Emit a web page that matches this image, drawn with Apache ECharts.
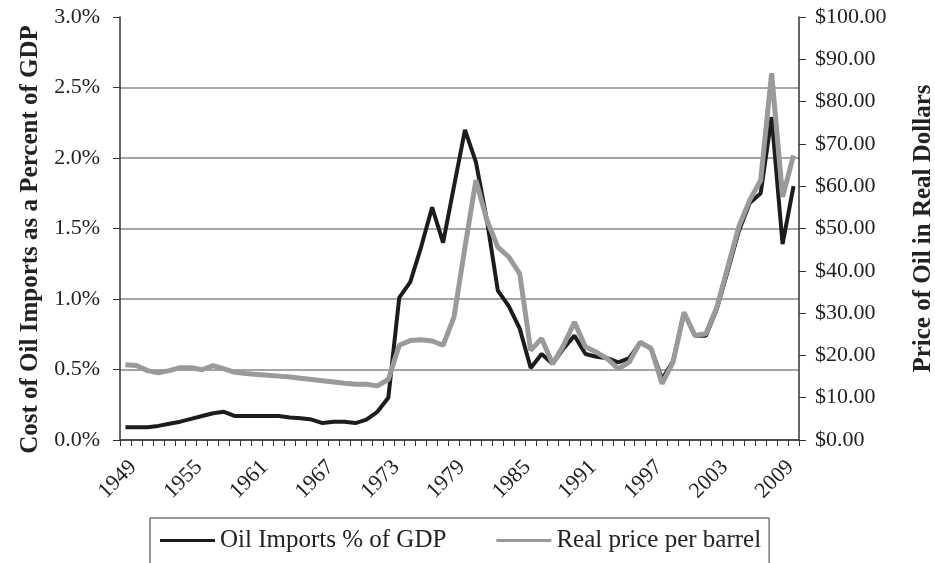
<!DOCTYPE html>
<html>
<head>
<meta charset="utf-8">
<title>Oil imports and price</title>
<script src="https://cdn.jsdelivr.net/npm/echarts@6/dist/echarts.min.js"></script>
<style>
    html, body { margin: 0; padding: 0; background: #fff; }
    #chart { width: 935px; height: 563px; }
</style>
</head>
<body>
<div id="chart"></div>
<script>
// years 1949..2010
var years = [];
for (var y = 1949; y <= 2010; y++) { years.push(String(y)); }

// oil imports as % of GDP
var importsPct = [
    0.09, 0.09, 0.09, 0.10, 0.115, 0.13, 0.15, 0.17, 0.19, 0.20,
    0.17, 0.17, 0.17, 0.17, 0.17, 0.16, 0.155, 0.145, 0.12, 0.13,
    0.13, 0.12, 0.145, 0.20, 0.30, 1.01, 1.12, 1.37, 1.65, 1.40,
    1.80, 2.20, 1.97, 1.56, 1.06, 0.95, 0.79, 0.51, 0.61, 0.54,
    0.65, 0.74, 0.61, 0.59, 0.58, 0.55, 0.58, 0.69, 0.65, 0.43,
    0.56, 0.90, 0.74, 0.74, 0.93, 1.20, 1.48, 1.68, 1.75, 2.29,
    1.39, 1.80
];

// real price per barrel, dollars
var pricePerBarrel = [
    17.8, 17.6, 16.4, 15.9, 16.4, 17.1, 17.1, 16.6, 17.6, 16.8,
    16.0, 15.7, 15.5, 15.3, 15.1, 14.9, 14.6, 14.3, 14.0, 13.7,
    13.4, 13.2, 13.2, 12.8, 14.3, 22.4, 23.5, 23.7, 23.4, 22.4,
    29.1, 45.6, 61.4, 52.0, 45.6, 43.3, 39.3, 21.2, 24.0, 18.0,
    22.4, 27.9, 22.0, 20.8, 19.2, 16.8, 18.4, 23.1, 21.6, 13.3,
    18.4, 30.2, 24.7, 25.1, 31.4, 40.9, 50.4, 56.7, 61.4, 86.7,
    57.5, 67.3
];

var serif = 'Liberation Serif';

var myChart = echarts.init(document.getElementById('chart'));
var option = {
    animation: false,
    textStyle: { fontFamily: serif },
    grid: {
        left: 120,
        right: 136,
        top: 17,
        bottom: 123,
        outerBoundsMode: 'none'
    },
    legend: {
        left: 150,
        top: 518,
        padding: [10, 8, 14, 10],
        borderColor: '#333',
        borderWidth: 1,
        itemWidth: 55,
        itemHeight: 3,
        itemGap: 50,
        icon: 'rect',
        textStyle: { fontFamily: serif, fontSize: 25, color: '#222' },
        data: ['Oil Imports % of GDP', 'Real price per barrel']
    },
    xAxis: {
        type: 'category',
        boundaryGap: true,
        data: years,
        axisLine: { lineStyle: { color: '#333', width: 1.5 } },
        axisTick: { show: true, interval: 0, length: 6, lineStyle: { color: '#333' } },
        axisLabel: {
            interval: 5,
            rotate: 45,
            margin: 16,
            verticalAlign: 'top',
            fontFamily: serif,
            fontSize: 22,
            color: '#222'
        }
    },
    yAxis: [
        {
            type: 'value',
            min: 0,
            max: 3,
            interval: 0.5,
            name: 'Cost of Oil Imports as a Percent of GDP',
            nameLocation: 'middle',
            nameRotate: 90,
            nameGap: 76,
            nameTextStyle: {
                fontFamily: serif, fontSize: 25, fontWeight: 'bold', color: '#222',
                padding: [0, 22, 0, 0]
            },
            axisLine: { show: true, lineStyle: { color: '#333', width: 1.5 } },
            axisTick: { show: true, length: 7, lineStyle: { color: '#333' } },
            axisLabel: {
                fontFamily: serif,
                fontSize: 22,
                color: '#222',
                margin: 20,
                formatter: function (v) { return v.toFixed(1) + '%'; }
            },
            splitLine: {
                show: true,
                lineStyle: {
                    color: ['#888', '#888', '#888', '#888', '#888', '#888', 'rgba(0,0,0,0)'],
                    width: 1.5
                }
            }
        },
        {
            type: 'value',
            min: 0,
            max: 100,
            interval: 10,
            position: 'right',
            name: 'Price of Oil in Real Dollars',
            nameLocation: 'middle',
            nameRotate: 90,
            nameGap: 112,
            nameTextStyle: { fontFamily: serif, fontSize: 25, fontWeight: 'bold', color: '#222' },
            axisLine: { show: true, lineStyle: { color: '#333', width: 1.5 } },
            axisTick: { show: true, length: 7, lineStyle: { color: '#333' } },
            axisLabel: {
                fontFamily: serif,
                fontSize: 22,
                color: '#222',
                margin: 16,
                formatter: function (v) { return '$' + v.toFixed(2); }
            },
            splitLine: { show: false }
        }
    ],
    series: [
        {
            name: 'Oil Imports % of GDP',
            type: 'line',
            yAxisIndex: 0,
            data: importsPct,
            showSymbol: false,
            color: '#1c1c1c',
            lineStyle: { width: 4, color: '#1c1c1c' }
        },
        {
            name: 'Real price per barrel',
            type: 'line',
            yAxisIndex: 1,
            data: pricePerBarrel,
            showSymbol: false,
            color: '#9a9a9a',
            lineStyle: { width: 5, color: '#9a9a9a' }
        }
    ]
};
myChart.setOption(option);
</script>
</body>
</html>
